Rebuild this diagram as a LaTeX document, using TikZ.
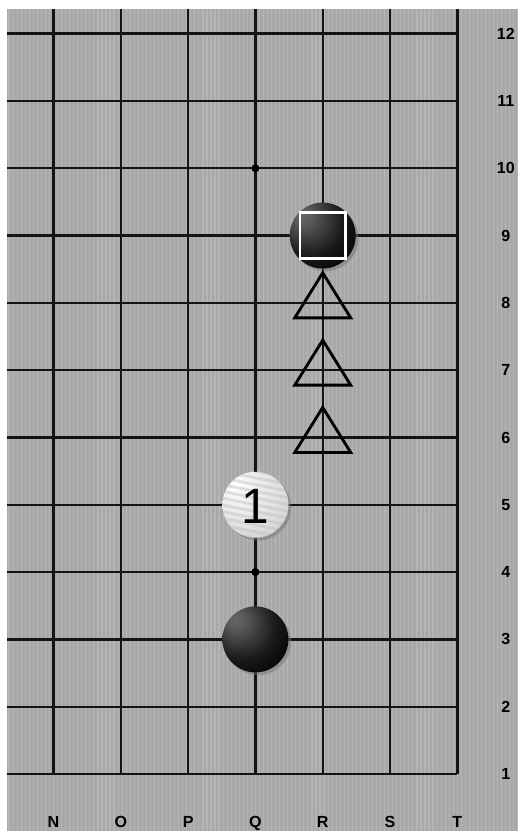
\documentclass[tikz,border=0pt]{standalone}
\usepackage{fontspec}
\setsansfont{Liberation Sans}
\usetikzlibrary{calc}
\colorlet{boardcol}{black!34}
\colorlet{stripecol}{black!29}
\def\stonerad{0.49}
\def\boardtop{11.367}
\def\boardleft{-0.691}

\pgfdeclareradialshading{blackstone}{\pgfpoint{-16bp}{16bp}}{%
  color(0bp)=(black!60); color(6bp)=(black!64); color(26bp)=(black!90);
  color(42bp)=(black); color(80bp)=(black)}
\pgfdeclareradialshading{whitestone}{\pgfpoint{-16bp}{16bp}}{%
  color(0bp)=(white); color(10bp)=(white!96!black); color(40bp)=(black!18);
  color(62bp)=(black!38); color(80bp)=(black!38)}

\tikzset{
  gridline/.style={line width=1pt, black!92},
  coordlbl/.style={font=\sffamily\bfseries\fontsize{6.8}{7}\selectfont, inner sep=0pt},
  trimark/.style={line width=1.2pt, black},
}

\begin{document}
\begin{tikzpicture}[x=1cm, y=1cm]
  \useasboundingbox (-0.795,-0.847) rectangle (6.902,11.5);
  \fill[white] (-0.795,-0.847) rectangle (6.902,11.5);
  \fill[boardcol] (\boardleft,-0.847) rectangle (6.902,\boardtop);
  % wood-ish stripes
  \foreach \s in {-0.66,-0.60,...,6.9}
    \draw[stripecol, line width=0.5pt] (\s,-0.847) -- (\s,\boardtop);

  % grid
  \foreach \r in {0,...,11}
    \draw[gridline] (\boardleft,\r) -- (6,\r);
  \foreach \c in {0,...,6}
    \draw[gridline] (\c,0) -- (\c,\boardtop);

  % hoshi
  \fill (3,9) circle (0.06);
  \fill (3,3) circle (0.06);

  % stones
  \fill[black!55, opacity=0.5] (4.04,7.96) circle (\stonerad);
  \shade[shading=blackstone] (4,8) circle (\stonerad);
  \fill[black!55, opacity=0.5] (3.04,1.96) circle (\stonerad);
  \shade[shading=blackstone] (3,2) circle (\stonerad);
  \fill[black!55, opacity=0.5] (3.04,3.96) circle (\stonerad);
  \shade[shading=whitestone] (3,4) circle (\stonerad);
  \begin{scope}
    \clip (3,4) circle (\stonerad);
    \foreach \d in {-0.6,-0.5,...,0.6}
      \draw[white!75!black, opacity=0.45, line width=1.2pt] (2.4,4+\d+0.12) -- (3.6,4+\d-0.12);
  \end{scope}
  \node[font=\sffamily\fontsize{21}{22}\selectfont, inner sep=0pt] (move-1) at (3,3.98) {1};

  % marks
  \draw[white, line width=1.1pt] (4,8) ++(-0.34,-0.34) rectangle ++(0.68,0.68);
  \foreach \r in {7,6,5}
    \draw[trimark] (4,\r) ++(0,0.446) -- ++(0.416,-0.669) -- ++(-0.832,0) -- cycle;

  % coordinates
  \foreach \l [count=\i from 0] in {N,O,P,Q,R,S,T}
    \node[coordlbl, anchor=base] (col-\l) at (\i,-0.8) {\l};
  \foreach \r in {1,...,12}
    \node[coordlbl] (row-\r) at (6.72,\r-1) {\r};
\end{tikzpicture}
\end{document}
